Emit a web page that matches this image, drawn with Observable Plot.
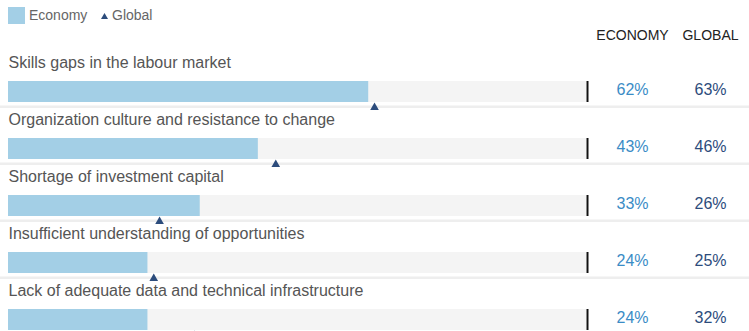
<!DOCTYPE html>
<html>
<head>
<meta charset="utf-8">
<script src="https://cdn.jsdelivr.net/npm/d3@7"></script>
<script src="https://cdn.jsdelivr.net/npm/@observablehq/plot@0.6"></script>
<style>
  html, body { margin: 0; padding: 0; background: #fff; }
  body { font-family: "Liberation Sans", Arial, Helvetica, sans-serif; width: 749px; height: 331px; overflow: hidden; }
  #legend { position: relative; height: 26px; font-size: 14px; color: #666; }
  #legend .sw { position: absolute; left: 8px; top: 7px; width: 17px; height: 17px; background: #a3cfe6; }
  #legend .t1 { position: absolute; left: 29px; top: 7px; }
  #legend svg { position: absolute; left: 101px; top: 13px; }
  #legend .t2 { position: absolute; left: 112px; top: 7px; }
</style>
</head>
<body>
<div id="legend"></div>
<div id="chart"></div>
<script>
const categories = [
  "Skills gaps in the labour market",
  "Organization culture and resistance to change",
  "Shortage of investment capital",
  "Insufficient understanding of opportunities",
  "Lack of adequate data and technical infrastructure"
];
const economyValues = [62, 43, 33, 24, 24];
const globalValues = [63, 46, 26, 25, 32];
const columnHeaders = ["ECONOMY", "GLOBAL"];
const legendLabels = ["Economy", "Global"];

const colEconomyBar = "#a3cfe6";
const colEconomyText = "#3a8cc6";
const colGlobal = "#2c4c7c";

const rows = categories.map((c, i) => ({category: c, economy: economyValues[i], global: globalValues[i]}));

// legend
const lg = document.getElementById("legend");
lg.innerHTML = `<div class="sw"></div><span class="t1">${legendLabels[0]}</span>` +
  `<svg width="7" height="6"><polygon points="3.5,0 7,6 0,6" fill="${colGlobal}"/></svg>` +
  `<span class="t2">${legendLabels[1]}</span>`;

const bandInset = 18;
const chart = Plot.plot({
  width: 749,
  height: 305,
  marginLeft: 0,
  marginRight: 0,
  marginTop: 0,
  marginBottom: 0,
  style: {fontFamily: '"Liberation Sans", Arial, Helvetica, sans-serif', background: "transparent"},
  x: {domain: [0, 100], range: [8, 589], axis: null},
  y: {type: "band", domain: categories, range: [36.5, 321.5], padding: 0, axis: null},
  marks: [
    Plot.ruleY(rows, {y: "category", stroke: "#eeeeee", strokeWidth: 2.5, dy: 14.7}),
    Plot.barX(rows, {x1: d => 0, x2: d => 100, y: "category", fill: "#f4f4f4", insetTop: bandInset, insetBottom: bandInset, insetRight: 3}),
    Plot.barX(rows, {x1: d => 0, x2: "economy", y: "category", fill: colEconomyBar, insetTop: bandInset, insetBottom: bandInset}),
    Plot.tickX(rows, {x: d => 100, y: "category", stroke: "#111", strokeWidth: 2, insetTop: bandInset, insetBottom: bandInset, dx: -2}),
    Plot.dot(rows, {x: "global", y: "category", symbol: "triangle", r: 3.2, fill: colGlobal, stroke: "none", dy: 15.5}),
    Plot.text(rows, {x: d => 0, y: "category", text: "category", textAnchor: "start", lineAnchor: "bottom", dy: -24, fontSize: 16, fill: "#555"}),
    Plot.text(rows, {frameAnchor: "right", y: "category", text: d => d.economy + "%", textAnchor: "middle", lineAnchor: "bottom", dx: -117, dy: 3, fontSize: 16, fill: colEconomyText}),
    Plot.text(rows, {frameAnchor: "right", y: "category", text: d => d.global + "%", textAnchor: "middle", lineAnchor: "bottom", dx: -39, dy: 3, fontSize: 16, fill: colGlobal}),
    Plot.text([columnHeaders[0]], {frameAnchor: "top-right", text: d => d, textAnchor: "middle", lineAnchor: "bottom", dx: -117, dy: 13, fontSize: 14, fill: "#222"}),
    Plot.text([columnHeaders[1]], {frameAnchor: "top-right", text: d => d, textAnchor: "middle", lineAnchor: "bottom", dx: -39, dy: 13, fontSize: 14, fill: "#222"})
  ]
});
document.getElementById("chart").appendChild(chart);
</script>
</body>
</html>
